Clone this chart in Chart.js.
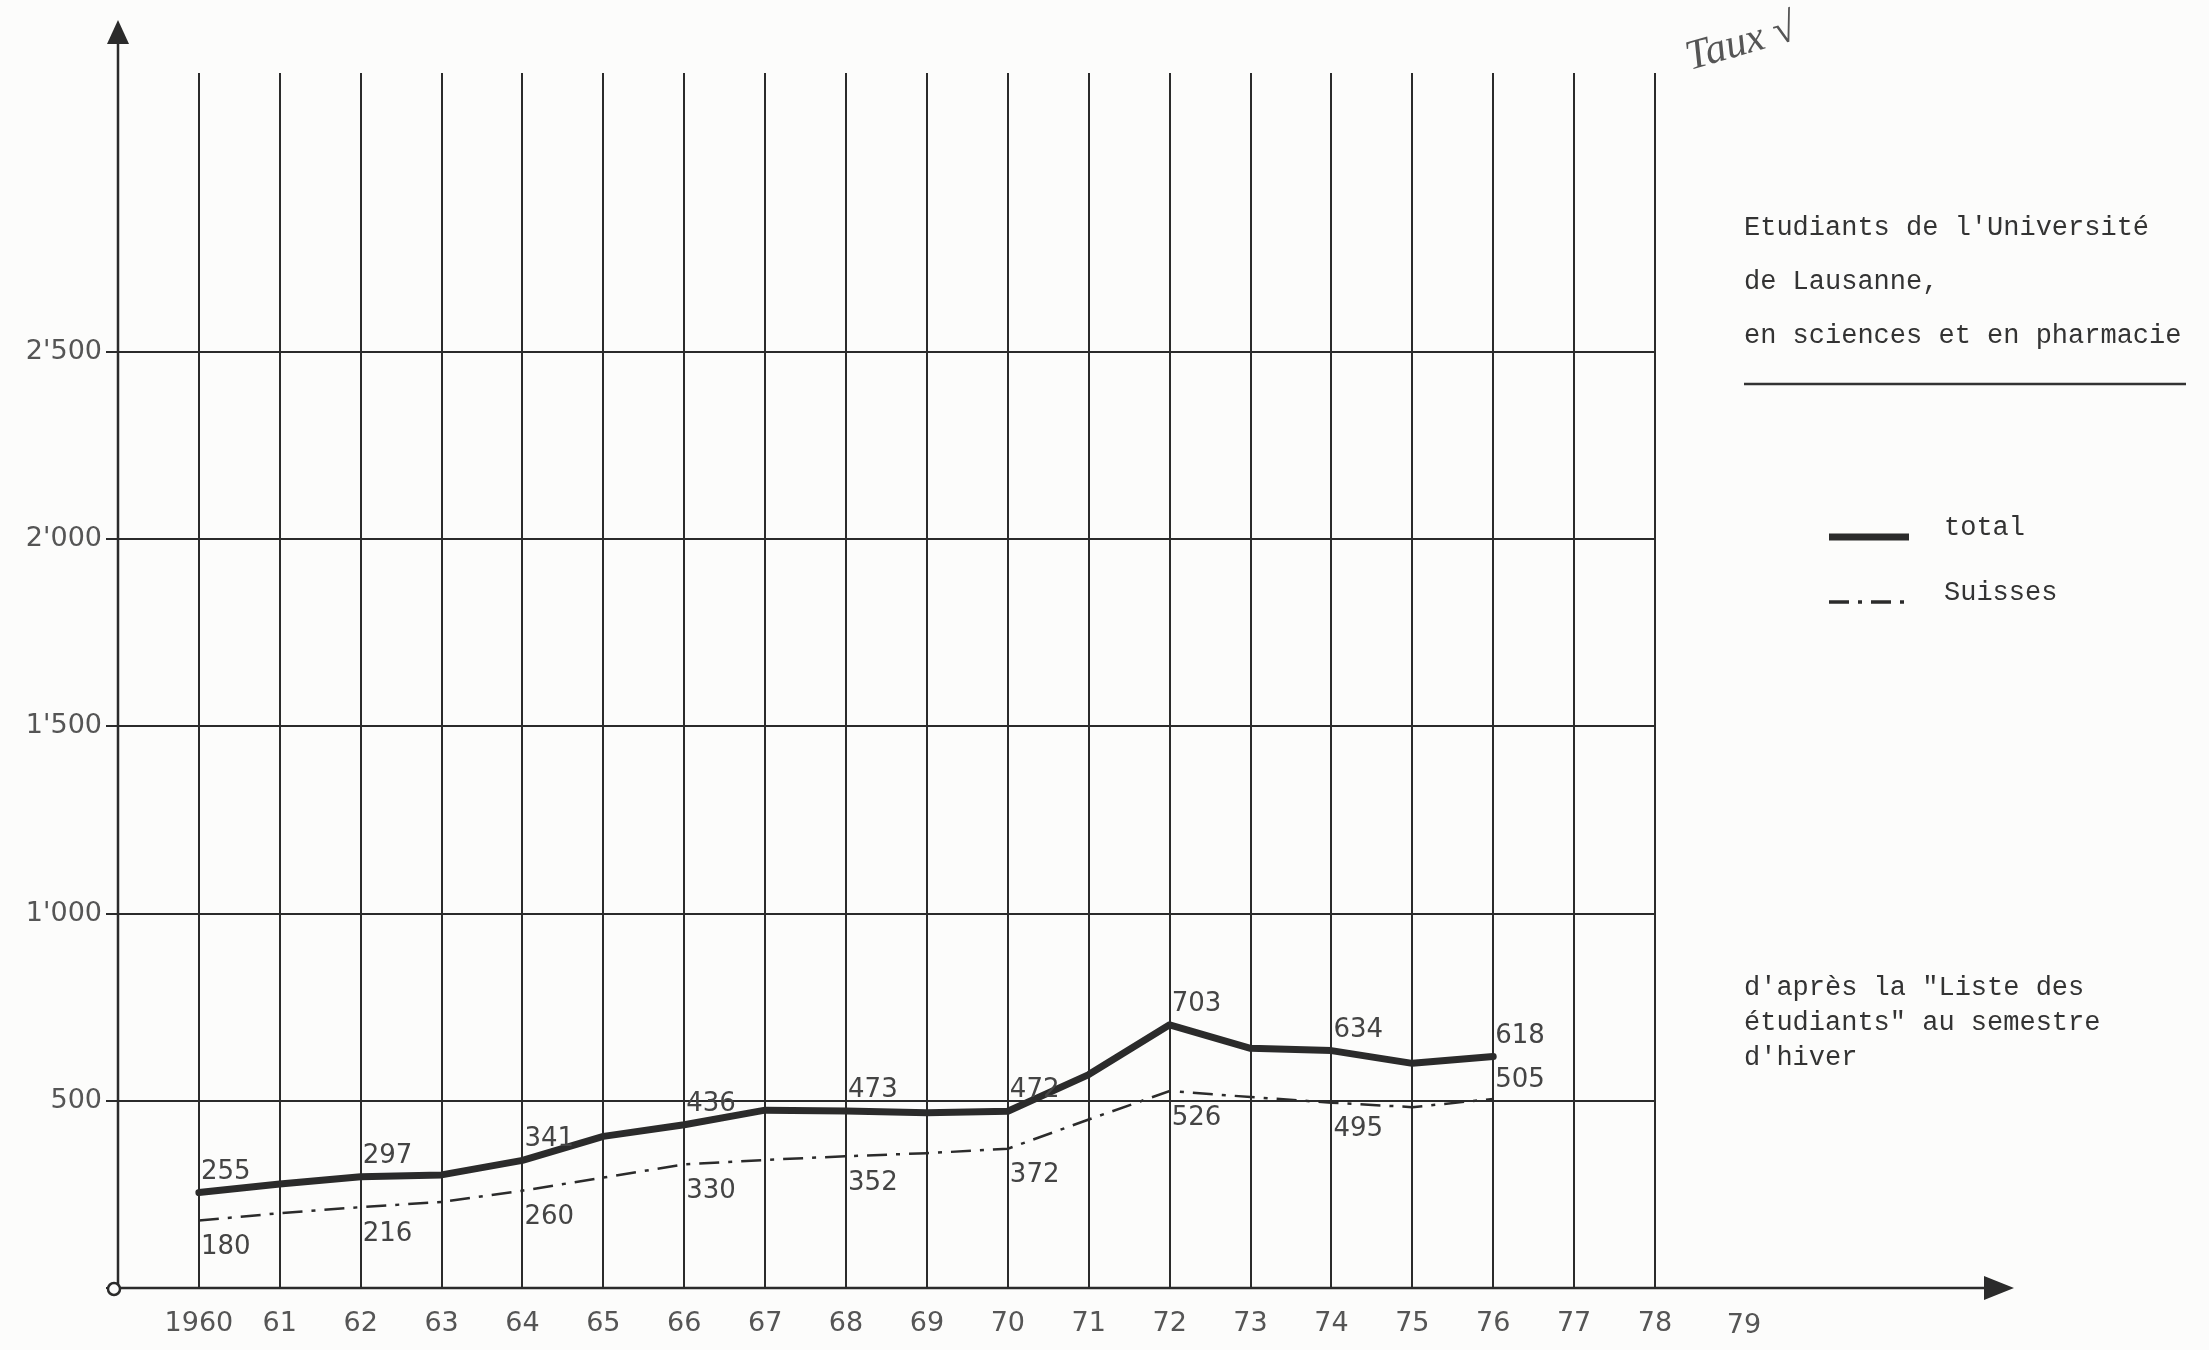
<!DOCTYPE html>
<html>
<head>
<meta charset="utf-8">
<title>Etudiants de l'Université de Lausanne, en sciences et en pharmacie</title>
<script src="https://cdn.jsdelivr.net/npm/chart.js@4/dist/chart.umd.min.js"></script>
<style>
  html, body { margin: 0; padding: 0; background: #fcfcfb; }
  #chart { display: block; }
</style>
</head>
<body>
<canvas id="chart" width="2209" height="1350"></canvas>
<script>
// années (semestre d'hiver)
const years = [1960, 1961, 1962, 1963, 1964, 1965, 1966, 1967, 1968,
               1969, 1970, 1971, 1972, 1973, 1974, 1975, 1976];

// étudiants, total
const totalValues = [255, 278, 297, 302, 341, 405, 436, 475, 473,
                     468, 472, 570, 703, 640, 634, 600, 618];

// étudiants suisses
const suissesValues = [180, 200, 216, 230, 260, 295, 330, 342, 352,
                       360, 372, 450, 526, 510, 495, 483, 505];

// graduations
const xTicks = [1959, 1960, 1961, 1962, 1963, 1964, 1965, 1966, 1967, 1968,
                1969, 1970, 1971, 1972, 1973, 1974, 1975, 1976, 1977, 1978];
const xTickLabels = ['', '1960', '61', '62', '63', '64', '65', '66', '67', '68',
                     '69', '70', '71', '72', '73', '74', '75', '76', '77', '78'];
const yTicks = [0, 500, 1000, 1500, 2000, 2500];
const yTickLabels = ['', '500', "1'000", "1'500", "2'000", "2'500"];

const titleLines = ["Etudiants de l'Université", 'de Lausanne,', 'en sciences et en pharmacie'];
const noteLines = ['d\'après la "Liste des', 'étudiants" au semestre', "d'hiver"];

const INK = '#2b2b2b';
const PENCIL = '#555';
const HAND_FONT = '"DejaVu Sans", sans-serif';
const TYPE_FONT = '"Liberation Mono", monospace';
const SUISSES_DASH = [20, 9, 4, 9];

// axes fléchés, textes dactylographiés, étiquettes de valeurs
const decorPlugin = {
    id: 'decor',
    afterDraw(chart) {
        const ctx = chart.ctx;
        const area = chart.chartArea;
        const xs = chart.scales.x;
        const x0 = area.left, y0 = area.bottom;

        ctx.save();
        ctx.strokeStyle = INK;
        ctx.fillStyle = INK;
        ctx.lineWidth = 2.5;

        // axe des x avec flèche
        ctx.beginPath();
        ctx.moveTo(x0 - 6, y0);
        ctx.lineTo(1990, y0);
        ctx.stroke();
        ctx.beginPath();
        ctx.moveTo(2014, y0);
        ctx.lineTo(1984, y0 - 12);
        ctx.lineTo(1984, y0 + 12);
        ctx.closePath();
        ctx.fill();

        // axe des y avec flèche
        ctx.beginPath();
        ctx.moveTo(x0, y0);
        ctx.lineTo(x0, 40);
        ctx.stroke();
        ctx.beginPath();
        ctx.moveTo(x0, 20);
        ctx.lineTo(x0 - 11, 44);
        ctx.lineTo(x0 + 11, 44);
        ctx.closePath();
        ctx.fill();

        // origine
        ctx.beginPath();
        ctx.arc(x0 - 4, y0 + 1, 6, 0, Math.PI * 2);
        ctx.fillStyle = '#fcfcfb';
        ctx.fill();
        ctx.stroke();

        // année 79 hors de la grille
        ctx.fillStyle = PENCIL;
        ctx.font = '27px ' + HAND_FONT;
        ctx.textAlign = 'center';
        ctx.textBaseline = 'middle';
        ctx.fillText('79', xs.getPixelForValue(1979) + 8, y0 + 38);

        // étiquettes de valeurs (années paires)
        ctx.fillStyle = '#444';
        ctx.font = '26px ' + HAND_FONT;
        ctx.textAlign = 'left';
        const metaTotal = chart.getDatasetMeta(0).data;
        const metaSuisses = chart.getDatasetMeta(1).data;
        years.forEach((yr, i) => {
            if (i % 2 !== 0) return;
            const pt = metaTotal[i];
            ctx.textBaseline = 'alphabetic';
            ctx.fillText(String(totalValues[i]), pt.x + 2, pt.y - 14);
            const ps = metaSuisses[i];
            if (i === years.length - 1) {
                ctx.textBaseline = 'alphabetic';
                ctx.fillText(String(suissesValues[i]), ps.x + 2, ps.y - 12);
            } else {
                ctx.textBaseline = 'top';
                ctx.fillText(String(suissesValues[i]), ps.x + 2, ps.y + 14);
            }
        });

        // titre
        ctx.fillStyle = '#333';
        ctx.font = '27px ' + TYPE_FONT;
        ctx.textBaseline = 'middle';
        titleLines.forEach((t, i) => ctx.fillText(t, 1744, 228 + i * 54));
        ctx.strokeStyle = '#333';
        ctx.lineWidth = 2.5;
        ctx.beginPath();
        ctx.moveTo(1744, 384);
        ctx.lineTo(2186, 384);
        ctx.stroke();

        // légende
        ctx.strokeStyle = INK;
        ctx.lineWidth = 7;
        ctx.beginPath();
        ctx.moveTo(1829, 537);
        ctx.lineTo(1909, 537);
        ctx.stroke();
        ctx.lineWidth = 3.5;
        ctx.setLineDash(SUISSES_DASH);
        ctx.beginPath();
        ctx.moveTo(1829, 602);
        ctx.lineTo(1912, 602);
        ctx.stroke();
        ctx.setLineDash([]);
        ctx.fillText('total', 1944, 528);
        ctx.fillText('Suisses', 1944, 593);

        // source
        noteLines.forEach((t, i) => ctx.fillText(t, 1744, 988 + i * 35));

        // annotation manuscrite
        ctx.save();
        ctx.translate(1690, 70);
        ctx.rotate(-0.28);
        ctx.fillStyle = '#555';
        ctx.font = 'italic 42px "Liberation Serif", serif';
        ctx.textBaseline = 'alphabetic';
        ctx.fillText('Taux \u221A', 0, 0);
        ctx.restore();

        ctx.restore();
    }
};

const ctx = document.getElementById('chart').getContext('2d');

new Chart(ctx, {
    type: 'line',
    data: {
        datasets: [
            {
                label: 'total',
                data: years.map((yr, i) => ({ x: yr, y: totalValues[i] })),
                borderColor: INK,
                borderWidth: 7,
                pointRadius: 0,
                tension: 0,
                borderJoinStyle: 'round',
                borderCapStyle: 'round'
            },
            {
                label: 'Suisses',
                data: years.map((yr, i) => ({ x: yr, y: suissesValues[i] })),
                borderColor: INK,
                borderWidth: 2.5,
                borderDash: SUISSES_DASH,
                pointRadius: 0,
                tension: 0
            }
        ]
    },
    options: {
        responsive: false,
        animation: false,
        devicePixelRatio: 1,
        layout: {
            padding: { top: 73, right: 554, left: 0, bottom: 0 }
        },
        scales: {
            x: {
                type: 'linear',
                min: 1959,
                max: 1978,
                afterBuildTicks: s => { s.ticks = xTicks.map(v => ({ value: v })); },
                afterFit: s => { s.height = 62; },
                border: { display: false },
                grid: {
                    color: INK,
                    lineWidth: 2,
                    drawTicks: false
                },
                ticks: {
                    autoSkip: false,
                    maxRotation: 0,
                    padding: 20,
                    color: PENCIL,
                    font: { family: HAND_FONT, size: 27 },
                    callback: v => xTickLabels[xTicks.indexOf(v)]
                }
            },
            y: {
                min: 0,
                max: 3245,
                afterBuildTicks: s => { s.ticks = yTicks.map(v => ({ value: v })); },
                afterFit: s => { s.width = 118; },
                border: { display: false },
                grid: {
                    color: INK,
                    lineWidth: 2,
                    tickLength: 12
                },
                ticks: {
                    padding: 4,
                    color: PENCIL,
                    font: { family: HAND_FONT, size: 27 },
                    callback: v => yTickLabels[yTicks.indexOf(v)]
                }
            }
        },
        plugins: {
            legend: { display: false },
            tooltip: { enabled: false }
        }
    },
    plugins: [decorPlugin]
});
</script>
</body>
</html>
